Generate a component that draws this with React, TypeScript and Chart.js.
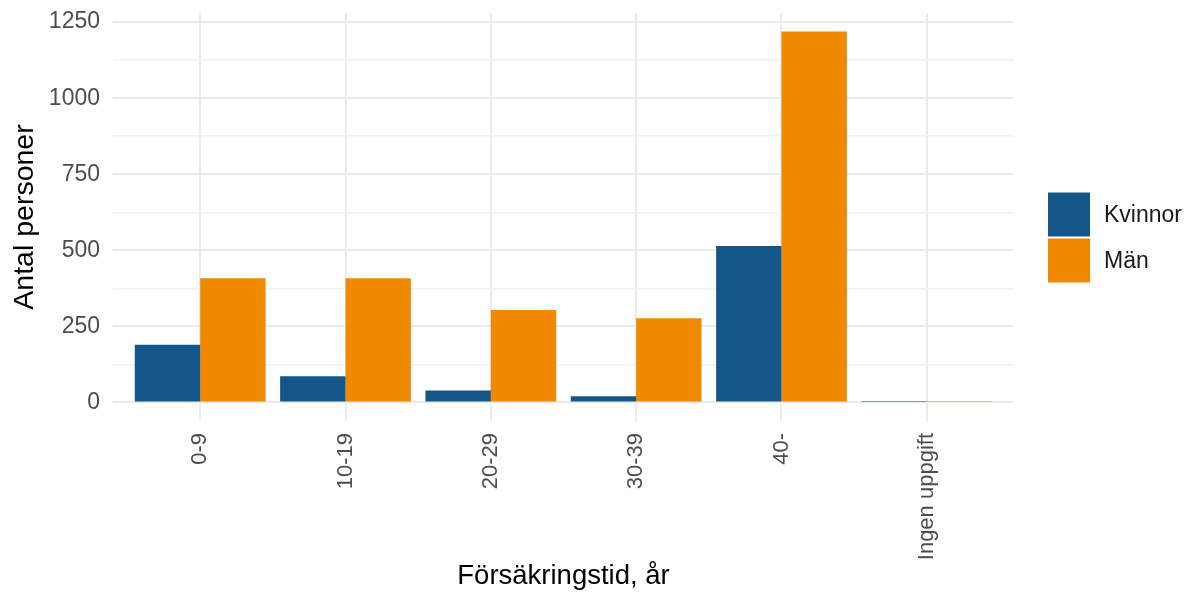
import React, { useEffect, useRef } from 'react';
import { Chart, registerables } from 'chart.js';

Chart.register(...registerables);

const categories = ['0-9', '10-19', '20-29', '30-39', '40-', 'Ingen uppgift'];
const kvinnor = [190, 86, 39, 20, 514, 5];
const man = [408, 408, 304, 277, 1219, 5];
const seriesNames = ['Kvinnor', 'Män'];
const seriesColors = ['#145687', '#F08800'];
const yMajorTicks = [0, 250, 500, 750, 1000, 1250];
const yMinorTicks = [125, 375, 625, 875, 1125];
const xTitle = 'Försäkringstid, år';
const yTitle = 'Antal personer';

const FONT = '"Liberation Sans", Arial, sans-serif';

const legendPlugin = {
  id: 'sideLegend',
  afterDraw(chart: any) {
    const { ctx, chartArea } = chart;
    const boxW = 42;
    const boxH = 44;
    const gap = 2;
    const x = chartArea.right + 34;
    const n = chart.data.datasets.length;
    const total = n * boxH + (n - 1) * gap;
    let y = 237.5 - total / 2;
    ctx.save();
    ctx.font = `23px ${FONT}`;
    ctx.textBaseline = 'middle';
    ctx.textAlign = 'left';
    chart.data.datasets.forEach((ds: any) => {
      ctx.fillStyle = ds.backgroundColor;
      ctx.fillRect(x, y, boxW, boxH);
      ctx.fillStyle = '#1a1a1a';
      ctx.fillText(ds.label, x + boxW + 14, y + boxH / 2 + 1);
      y += boxH + gap;
    });
    ctx.restore();
  },
};

export default function App() {
  const ref = useRef<HTMLCanvasElement | null>(null);

  useEffect(() => {
    if (!ref.current) return;
    const allY = [...yMajorTicks, ...yMinorTicks].sort((a, b) => a - b);
    const dataMax = Math.max(...kvinnor, ...man);
    const chart = new Chart(ref.current, {
      type: 'bar',
      data: {
        datasets: [
          {
            label: seriesNames[0],
            data: kvinnor.map((v, i) => ({ x: i, y: v })),
            backgroundColor: seriesColors[0],
            borderWidth: 0,
          },
          {
            label: seriesNames[1],
            data: man.map((v, i) => ({ x: i, y: v })),
            backgroundColor: seriesColors[1],
            borderWidth: 0,
          },
        ],
      },
      options: {
        animation: false,
        responsive: true,
        maintainAspectRatio: false,
        layout: { padding: { left: 0, right: 175, top: 13, bottom: 0 } },
        datasets: { bar: { categoryPercentage: 0.9, barPercentage: 1.0 } },
        plugins: {
          legend: { display: false },
          tooltip: { enabled: false },
        },
        scales: {
          x: {
            type: 'linear',
            offset: false,
            min: -0.6,
            max: categories.length - 1 + 0.6,
            afterBuildTicks: (scale: any) => {
              scale.ticks = categories.map((_, i) => ({ value: i }));
            },
            afterFit: (scale: any) => {
              scale.height = 172;
              scale.paddingLeft = 0;
              scale.paddingRight = 0;
            },
            ticks: {
              autoSkip: false,
              maxRotation: 90,
              minRotation: 90,
              padding: 12,
              color: '#4D4D4D',
              font: { family: FONT, size: 22 },
              callback: (v: any) => categories[Math.round(Number(v))] ?? '',
            },
            grid: { offset: false, color: '#EBEBEB', lineWidth: 2, drawTicks: false },
            border: { display: false },
            title: {
              display: true,
              text: xTitle,
              color: '#000',
              font: { family: FONT, size: 27.5 },
              padding: { top: 0, bottom: 0 },
            },
          },
          y: {
            type: 'linear',
            min: -0.05 * dataMax,
            max: 1.05 * dataMax,
            afterBuildTicks: (scale: any) => {
              scale.ticks = allY.map((v) => ({ value: v }));
            },
            afterFit: (scale: any) => {
              scale.width = 113;
              scale.paddingTop = 0;
              scale.paddingBottom = 0;
            },
            ticks: {
              autoSkip: false,
              padding: 13,
              color: '#4D4D4D',
              font: { family: FONT, size: 23 },
              callback: (v: any) => (yMajorTicks.includes(Number(v)) ? String(v) : ''),
            },
            grid: {
              drawTicks: false,
              color: (c: any) => (c.tick && yMajorTicks.includes(c.tick.value) ? '#EBEBEB' : '#F1F1F1'),
              lineWidth: (c: any) => (c.tick && yMajorTicks.includes(c.tick.value) ? 2 : 1.5),
            },
            border: { display: false },
            title: {
              display: true,
              text: yTitle,
              color: '#000',
              font: { family: FONT, size: 28.5 },
              padding: { top: 8, bottom: 0 },
            },
          },
        },
      },
      plugins: [legendPlugin],
    });
    return () => chart.destroy();
  }, []);

  return (
    <div style={{ position: 'fixed', left: 0, top: 0, width: 1189, height: 593, background: '#fff' }}>
      <canvas ref={ref} />
    </div>
  );
}
